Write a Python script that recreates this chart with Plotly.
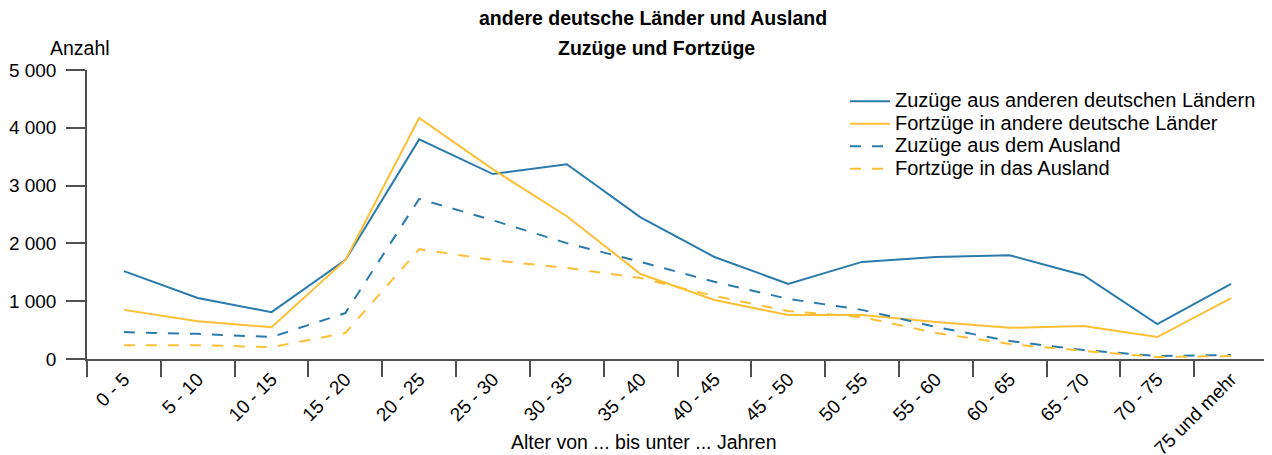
import plotly.graph_objects as go

categories = ["0 - 5", "5 - 10", "10 - 15", "15 - 20", "20 - 25", "25 - 30", "30 - 35",
              "35 - 40", "40 - 45", "45 - 50", "50 - 55", "55 - 60", "60 - 65",
              "65 - 70", "70 - 75", "75 und mehr"]

zuzuege_laender = [1520, 1055, 810, 1710, 3800, 3200, 3370, 2450, 1765, 1300, 1680, 1765, 1795, 1450, 605, 1300]
fortzuege_laender = [850, 655, 550, 1710, 4170, 3280, 2470, 1470, 1020, 760, 760, 640, 540, 570, 380, 1055]
zuzuege_ausland = [465, 435, 380, 795, 2770, 2400, 2005, 1680, 1335, 1040, 850, 555, 310, 155, 50, 70]
fortzuege_ausland = [240, 240, 205, 450, 1900, 1710, 1575, 1400, 1090, 830, 725, 450, 260, 140, 35, 50]

y_ticks = [0, 1000, 2000, 3000, 4000, 5000]
y_tick_labels = ["0", "1 000", "2 000", "3 000", "4 000", "5 000"]

series_names = ["Zuzüge aus anderen deutschen Ländern", "Fortzüge in andere deutsche Länder",
                "Zuzüge aus dem Ausland", "Fortzüge in das Ausland"]

blue = "#2a7bab"
yellow = "#fdbf35"
dash = "11px,11px"

# page is rendered with the browser's default 8px body margin -> compensate
OFF = 8
W, H = 1272 - OFF, 455 - OFF
# plot area in page pixels: x 87..1268, y 70..359
L = 87 - OFF
T = 70 - OFF
R = (OFF + W) - 1268
B = (OFF + H) - 359
plot_w = W - L - R
plot_h = H - T - B


def px_x(x):
    return (x - OFF - L) / plot_w


def px_y(y):
    return (T + plot_h - (y - OFF)) / plot_h


def leg(name):
    return "<span style='font-size:20px'>" + name + "</span>"


fig = go.Figure()
fig.add_trace(go.Scatter(x=categories, y=zuzuege_laender, mode="lines",
                         name=leg(series_names[0]),
                         line=dict(color=blue, width=2)))
fig.add_trace(go.Scatter(x=categories, y=fortzuege_laender, mode="lines",
                         name=leg(series_names[1]),
                         line=dict(color=yellow, width=2)))
fig.add_trace(go.Scatter(x=categories, y=zuzuege_ausland, mode="lines",
                         name=leg(series_names[2]),
                         line=dict(color=blue, width=2, dash=dash)))
fig.add_trace(go.Scatter(x=categories, y=fortzuege_ausland, mode="lines",
                         name=leg(series_names[3]),
                         line=dict(color=yellow, width=2, dash=dash)))

font_family = "Liberation Sans, Arial, sans-serif"

fig.update_layout(
    width=W, height=H,
    margin=dict(l=L, r=R, t=T, b=B, autoexpand=False),
    paper_bgcolor="white", plot_bgcolor="white",
    font=dict(family=font_family, size=19, color="#000"),
    showlegend=True,
    legend=dict(x=px_x(845), y=px_y(85), xanchor="left", yanchor="top",
                font=dict(size=15), tracegroupgap=0, itemwidth=40,
                bgcolor="rgba(0,0,0,0)"),
    annotations=[
        dict(text="<b>andere deutsche Länder und Ausland</b>", x=px_x(653), y=px_y(18),
             xref="paper", yref="paper", xanchor="center", yanchor="middle",
             showarrow=False, font=dict(size=19.5)),
        dict(text="<b>Zuzüge und Fortzüge</b>", x=px_x(656), y=px_y(48),
             xref="paper", yref="paper", xanchor="center", yanchor="middle",
             showarrow=False, font=dict(size=19.5)),
        dict(text="Anzahl", x=px_x(80), y=px_y(48), xref="paper", yref="paper",
             xanchor="center", yanchor="middle", showarrow=False, font=dict(size=19.5)),
        dict(text="Alter von ... bis unter ... Jahren", x=px_x(644), y=px_y(442),
             xref="paper", yref="paper", xanchor="center", yanchor="middle",
             showarrow=False, font=dict(size=19.5)),
    ],
)

fig.update_xaxes(
    type="category", range=[-0.5, 15.5], automargin=False,
    showline=True, linecolor="#505050", linewidth=1.5,
    ticks="outside", ticklen=16, tickcolor="#505050", tickwidth=1.5,
    tickson="boundaries", tickangle=-45,
    showgrid=False, zeroline=False,
    tickfont=dict(size=19),
)
fig.update_yaxes(
    range=[0, 5000], tickvals=y_ticks, ticktext=y_tick_labels, automargin=False,
    showline=True, linecolor="#505050", linewidth=1.5,
    ticks="outside", ticklen=19, tickcolor="#505050", tickwidth=1.5,
    ticklabelstandoff=6,
    showgrid=False, zeroline=False,
    tickfont=dict(size=19),
)

fig.write_html("out.html")
